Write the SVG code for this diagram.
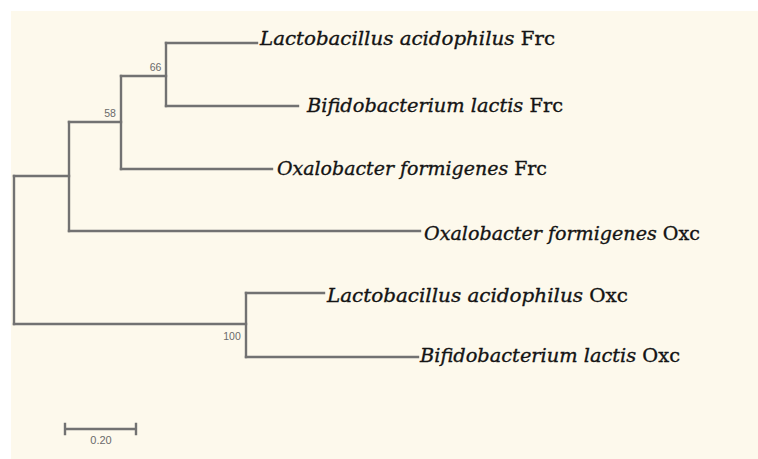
<svg xmlns="http://www.w3.org/2000/svg" width="758" height="459" viewBox="0 0 758 459">
  <style>
    .branch { fill: none; stroke: #727272; stroke-width: 2.4; stroke-linecap: square; }
    .taxon { font-family: "DejaVu Serif", "Liberation Serif", serif; font-size: 19px; fill: #141414; stroke: #141414; stroke-width: 0.35; }
    .taxon .sp { font-style: italic; }
    .boot { font-family: "Liberation Sans", Arial, sans-serif; font-size: 10.5px; fill: #6a6a6a; }
    .scale { font-family: "Liberation Sans", Arial, sans-serif; font-size: 11px; fill: #6a6a6a; }
  </style>
  <rect x="0" y="0" width="758" height="459" fill="#ffffff"/>
  <rect x="11" y="11" width="747" height="448" fill="#fdf9ec"/>

  <!-- tree branches -->
  <g id="connectors">
    <!-- root -->
    <path class="branch" d="M14,176 V324"/>
    <path class="branch" d="M14,176 H69"/>
    <path class="branch" d="M14,324 H246"/>
    <!-- Frc clade + Oxalobacter Oxc -->
    <path class="branch" d="M69,122 V231"/>
    <path class="branch" d="M69,231 H420"/>
    <path class="branch" d="M69,122 H121"/>
    <path class="branch" d="M121,76 V169"/>
    <path class="branch" d="M121,169 H272"/>
    <path class="branch" d="M121,76 H166"/>
    <path class="branch" d="M166,43 V106"/>
    <path class="branch" d="M166,43 H257"/>
    <path class="branch" d="M166,106 H298"/>
    <!-- Oxc clade -->
    <path class="branch" d="M246,293 V357"/>
    <path class="branch" d="M246,293 H324"/>
    <path class="branch" d="M246,357 H418"/>
  </g>

  <!-- leaf labels -->
  <g id="leaf-la-frc">
    <text class="taxon" x="260" y="45" textLength="295" lengthAdjust="spacingAndGlyphs"><tspan class="sp">Lactobacillus acidophilus</tspan> Frc</text>
  </g>
  <g id="leaf-bl-frc">
    <text class="taxon" x="307" y="112" textLength="256" lengthAdjust="spacingAndGlyphs"><tspan class="sp">Bifidobacterium lactis</tspan> Frc</text>
  </g>
  <g id="leaf-of-frc">
    <text class="taxon" x="277" y="175" textLength="270" lengthAdjust="spacingAndGlyphs"><tspan class="sp">Oxalobacter formigenes</tspan> Frc</text>
  </g>
  <g id="leaf-of-oxc">
    <text class="taxon" x="424" y="240" textLength="276" lengthAdjust="spacingAndGlyphs"><tspan class="sp">Oxalobacter formigenes</tspan> Oxc</text>
  </g>
  <g id="leaf-la-oxc">
    <text class="taxon" x="327" y="302" textLength="301" lengthAdjust="spacingAndGlyphs"><tspan class="sp">Lactobacillus acidophilus</tspan> Oxc</text>
  </g>
  <g id="leaf-bl-oxc">
    <text class="taxon" x="420" y="362" textLength="260" lengthAdjust="spacingAndGlyphs"><tspan class="sp">Bifidobacterium lactis</tspan> Oxc</text>
  </g>

  <!-- bootstrap values -->
  <g id="boot-66"><text class="boot" x="155.5" y="71" text-anchor="middle">66</text></g>
  <g id="boot-58"><text class="boot" x="110" y="117" text-anchor="middle">58</text></g>
  <g id="boot-100"><text class="boot" x="232" y="340" text-anchor="middle">100</text></g>

  <!-- scale bar -->
  <g id="scale-bar">
    <path class="branch" d="M65,429 H136 M65,424 V434 M136,424 V434" stroke-width="2"/>
    <text class="scale" x="101" y="444" text-anchor="middle">0.20</text>
  </g>
</svg>
